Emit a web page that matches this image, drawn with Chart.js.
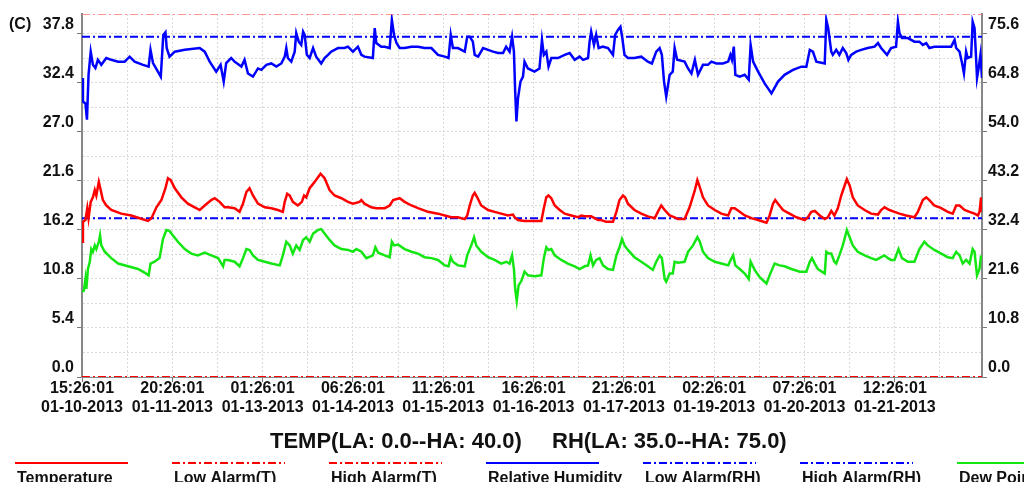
<!DOCTYPE html>
<html>
<head>
<meta charset="utf-8">
<script src="https://cdn.jsdelivr.net/npm/chart.js@4.4.0/dist/chart.umd.min.js"></script>
<style>
  html, body { margin: 0; padding: 0; background: #fff; }
  #wrap { position: relative; width: 1024px; height: 482px; }
</style>
</head>
<body>
<div id="wrap"><canvas id="grafica"></canvas></div>
<script>
// hours since 15:26:01 01-10-2013
var tempHours = [0,0.3,1.1,1.7,2.1,2.8,3.5,4.1,4.6,5.4,6.0,6.7,7.8,9.4,12.6,15.8,18.5,21.2,22.3,23.9,25.5,26.8,27.6,28.5,29.8,31.9,34.0,36.2,37.8,39.4,41.5,42.6,44.2,45.8,
  46.9,49.0,50.6,51.7,52.8,53.8,54.9,56.5,58.7,60.8,62.9,64.5,65.1,65.9,66.7,67.7,69.3,70.6,71.3,72.0,73.1,74.7,76.6,77.9,79.5,81.1,83.3,85.4,87.0,89.1,89.7,90.7,92.9,94.5,
  95.1,97.2,98.8,99.9,102.0,103.6,105.8,107.9,111.1,114.3,116.5,118.6,120.7,122.9,123.7,124.5,125.5,126.1,126.9,128.2,130.4,132.5,134.6,136.8,138.4,138.9,140.0,142.1,
  143.2,145.3,147.5,148.3,149.1,149.8,150.7,151.8,153.4,155.0,157.1,159.3,160.3,161.9,163.5,164.6,165.7,166.7,168.3,170.5,171.6,172.6,173.7,174.4,175.3,177.4,179.6,181.7,183.9,184.9,186.0,187.1,188.7,190.3,
  191.4,193.5,195.1,196.8,197.6,198.4,199.4,201.0,203.2,205.3,207.5,208.5,209.6,211.2,212.8,214.4,214.9,217.1,219.8,220.8,221.9,222.6,223.5,225.1,227.2,229.4,232.1,233.1,234.2,235.3,236.9,238.5,
  239.5,240.6,241.6,242.7,243.8,244.9,245.6,246.5,247.5,249.1,251.3,253.4,255.6,256.6,257.7,259.3,260.9,262.5,264.6,267.3,268.4,270.0,271.1,272.1,273.7,275.9,278.0,279.6,280.7,281.8,283.4,285.0,286.6,287.7,288.2,288.7,289.0];
var tempValues = [14.9,17.1,17.3,18.6,17.5,19.3,19.8,20.6,20.0,21.5,20.6,19.5,18.9,18.4,18.0,17.8,17.5,17.2,17.5,18.7,19.5,20.8,21.9,21.7,20.8,19.8,19.1,18.7,18.4,18.9,19.5,19.7,19.3,18.7,
  18.7,18.6,18.2,19.1,20.4,20.8,20.0,19.1,18.7,18.6,18.4,18.2,19.3,20.2,20.0,19.3,18.9,19.3,20.0,19.8,20.8,21.5,22.4,21.9,20.6,20.0,19.7,19.3,19.1,19.3,19.5,19.1,18.7,18.6,
  18.6,18.6,18.9,19.5,19.7,19.3,18.9,18.6,18.2,18.0,17.8,17.6,17.6,17.4,17.8,18.9,20.0,20.3,19.8,18.9,18.4,18.2,18.0,17.8,17.9,17.6,17.3,17.2,
  17.2,17.2,17.2,18.6,19.8,20.0,19.7,18.9,18.4,18.0,17.8,17.6,17.8,17.7,17.7,17.5,17.3,17.3,17.1,17.1,18.2,19.5,20.0,19.8,19.1,18.4,18.0,17.7,17.5,18.2,18.9,18.4,17.8,17.6,
  17.4,17.4,18.7,20.6,21.7,20.9,19.8,18.9,18.4,18.0,17.8,18.6,18.6,18.2,17.8,17.6,17.5,17.3,17.0,17.8,19.1,19.5,19.1,18.4,18.0,17.6,17.3,17.6,18.2,18.3,17.8,17.4,
  17.6,18.3,17.8,18.6,20.0,21.1,21.8,21.1,19.8,18.9,18.4,18.0,17.9,18.4,18.7,18.4,18.2,18.0,17.8,17.6,18.2,19.5,19.8,19.5,18.9,18.6,18.2,18.0,18.9,18.9,18.4,18.2,18.0,17.8,18.2,19.8,18.2];

var rhHours = [0,0.3,1.1,1.6,2.1,2.8,3.5,4.3,5.1,6.2,7.8,9.4,11.6,13.7,15.3,16.9,19.6,21.4,22.0,22.8,25.3,26.1,26.8,27.2,28.1,29.8,33.0,37.8,39.4,41.0,43.1,44.5,45.5,46.3,47.9,
  49.0,51.2,52.2,53.3,54.9,56.5,57.6,59.2,60.8,62.4,64.0,65.1,65.6,66.1,67.2,68.3,68.8,69.6,70.4,71.0,71.5,72.2,73.1,74.2,75.2,76.8,77.9,79.0,80.0,82.2,84.3,85.4,87.0,88.6,89.7,90.7,93.4,94.0,94.5,96.1,
  97.2,98.8,99.5,100.2,101.0,102.0,103.6,105.8,107.9,110.0,112.2,114.3,116.5,117.7,118.4,119.1,120.7,122.9,123.7,124.5,125.5,126.1,127.2,128.8,130.4,132.0,133.6,135.2,136.2,137.3,138.1,138.7,139.1,139.5,140.0,140.8,141.6,142.1,
  143.2,145.3,146.9,147.7,148.3,149.1,149.8,150.7,152.8,155.0,156.6,158.2,159.8,160.9,162.5,163.0,163.5,164.4,165.1,165.9,167.3,168.9,170.5,171.2,172.1,172.9,173.5,174.2,175.3,177.4,179.6,181.7,183.0,184.4,185.5,186.2,186.9,187.6,188.7,189.7,190.3,191.1,
  193.5,194.6,195.7,196.8,197.8,199.4,201.0,202.1,203.7,205.8,207.5,208.2,208.7,209.3,209.8,211.2,212.8,214.1,214.7,215.5,217.1,219.2,221.4,223.5,225.6,228.3,231.0,232.6,233.7,234.7,235.8,238.5,239.0,239.6,240.1,
  240.6,241.1,242.2,243.2,244.3,245.4,246.1,247.0,248.6,250.2,252.3,254.5,255.6,256.6,258.5,259.8,261.4,262.0,262.5,263.3,265.2,267.3,268.9,270.0,271.1,272.1,273.7,275.9,279.1,280.2,280.7,281.8,282.5,283.2,283.9,284.4,285.5,286.0,286.6,287.1,287.4,287.9,288.5,289.0];
var rhValues = [65.9,60.7,60.3,56.7,66.6,71.7,68.8,68.1,69.9,68.8,70.3,69.9,69.5,69.5,70.6,69.5,68.8,68.4,72.1,69.2,66.2,75.4,76.0,72.5,70.6,71.7,72.1,72.5,71.7,69.5,67.3,68.8,65.1,69.2,70.3,
  69.5,68.4,69.9,66.9,66.2,68.0,67.7,68.8,69.1,68.4,69.1,70.6,72.5,70.3,69.5,71.7,75.8,73.9,73.2,76.1,75.4,71.0,70.3,72.5,70.6,69.1,70.3,71.0,71.7,72.5,72.5,72.8,71.7,72.8,71.0,70.6,70.3,76.9,73.6,72.8,
  72.8,72.5,78.7,75.4,73.6,72.5,72.5,72.8,72.8,72.5,72.5,71.0,70.6,70.3,75.4,72.5,72.5,71.7,75.0,75.0,73.9,71.0,70.6,72.5,72.1,71.7,71.4,71.4,72.8,71.7,75.0,71.7,62.9,56.3,61.4,65.1,66.2,69.5,
  68.0,67.3,68.0,74.3,71.0,71.7,68.4,70.3,70.3,71.0,71.4,69.9,70.6,69.9,70.3,73.9,76.1,73.2,75.4,72.5,72.8,72.5,71.0,75.4,76.5,77.2,74.7,71.0,70.3,70.3,70.6,69.5,69.1,71.7,72.5,71.0,65.1,61.8,66.6,67.3,72.5,69.9,
  69.5,68.0,66.9,69.9,66.6,68.8,68.8,69.5,69.1,69.1,69.5,71.0,69.9,72.8,66.6,66.2,66.6,65.5,73.2,69.5,67.3,64.7,62.5,65.1,66.6,67.7,68.4,68.4,72.1,71.7,69.5,69.1,78.7,76.9,74.3,
  71.7,71.0,72.1,71.0,72.5,71.4,69.9,71.0,71.7,72.1,72.5,72.8,73.6,72.5,71.0,72.5,72.8,78.3,75.8,74.7,74.7,73.9,73.9,73.2,73.6,72.5,72.8,72.8,72.8,74.3,72.5,71.7,69.5,66.9,71.7,70.3,70.6,78.3,76.9,70.3,65.9,68.0,71.0,65.9];

var dewHours = [0,0.6,1.1,1.4,1.9,2.5,3.0,3.5,4.1,4.6,5.4,5.8,6.2,7.3,9.4,11.6,14.8,18.0,20.1,21.4,22.0,23.3,24.9,26.0,27.1,28.1,29.2,30.8,33.0,35.1,37.2,39.4,41.5,43.7,45.3,45.8,
  46.9,49.0,50.6,51.7,52.8,53.8,54.9,56.5,58.7,60.8,63.5,64.5,65.6,66.7,67.7,68.8,69.9,71.0,72.0,73.1,74.2,75.8,76.8,77.9,79.5,81.1,83.3,85.4,87.0,88.1,89.7,91.3,93.4,94.2,
  95.1,97.2,98.8,99.5,100.2,101.5,103.6,105.8,107.9,110.0,112.2,114.3,116.5,117.7,118.4,119.1,120.7,122.9,123.7,125.0,125.9,126.6,128.2,130.4,132.5,134.6,136.2,137.3,138.1,138.7,139.1,139.6,140.2,141.1,142.1,
  143.2,145.3,147.5,148.3,149.1,149.8,150.7,151.8,153.9,156.0,158.2,159.8,161.4,162.5,163.3,164.1,165.1,166.2,167.3,168.9,170.5,171.6,172.6,173.4,174.2,175.3,177.4,179.6,181.7,183.3,184.4,185.5,186.2,187.1,187.6,188.7,189.7,190.3,
  191.4,193.5,194.6,196.2,197.6,198.4,199.4,201.0,203.2,205.3,207.5,208.3,209.1,209.8,211.2,212.8,214.1,214.7,216.0,217.6,219.8,220.8,222.4,224.0,225.6,227.8,230.5,232.6,233.7,234.4,235.3,236.3,238.5,239.0,239.8,
  240.6,241.6,242.2,243.2,244.3,245.6,246.5,247.5,249.1,251.3,253.4,255.0,256.6,257.7,258.8,259.8,260.9,262.2,263.3,265.2,267.3,268.9,270.5,271.6,273.7,275.9,278.0,279.6,280.7,281.8,282.8,283.9,285.0,286.0,286.6,287.4,288.2,288.7];
var dewValues = [9.4,9.5,10.8,9.7,11.9,12.7,14.1,13.8,14.5,14.1,14.9,15.6,14.5,13.8,13.1,12.5,12.2,11.9,11.5,11.2,12.5,12.7,13.1,15.2,16.2,16.1,15.6,14.9,14.1,13.6,13.4,13.7,13.4,13.1,12.2,12.9,
  12.9,12.7,12.2,13.1,14.1,14.0,13.4,12.9,12.7,12.5,12.3,13.4,14.9,14.5,13.6,14.5,14.0,15.1,15.4,14.9,15.8,16.2,16.3,15.8,15.1,14.5,14.1,14.0,13.8,14.1,13.8,13.1,13.4,14.3,
  13.7,13.4,13.2,14.9,14.5,14.6,14.1,13.8,13.6,13.2,13.1,12.9,12.3,12.2,13.2,12.7,12.3,12.2,13.4,14.5,15.4,14.5,13.8,13.2,12.9,12.5,12.7,12.5,13.4,11.9,9.7,8.4,10.1,10.6,11.6,
  11.2,11.1,11.2,13.1,14.3,14.0,14.1,13.4,12.9,12.5,12.2,11.9,12.2,12.3,13.4,12.3,12.9,13.1,12.3,11.9,11.8,13.4,14.3,15.2,14.5,14.0,13.2,12.7,12.2,11.8,12.7,13.4,13.1,10.8,10.5,11.4,11.4,12.7,
  12.6,12.7,13.8,14.5,15.4,14.9,13.8,13.1,12.7,12.5,12.3,12.9,13.4,12.3,11.9,11.4,10.8,12.7,11.8,11.0,10.3,11.2,12.5,12.3,12.2,11.9,11.6,11.6,12.7,13.1,12.5,11.9,11.4,13.8,13.6,
  13.6,12.7,12.5,13.4,14.5,16.2,15.4,14.5,13.8,13.4,13.1,12.9,13.2,13.4,13.1,12.9,12.9,14.1,13.1,12.7,12.7,14.1,14.9,14.5,14.0,13.6,13.2,13.1,13.8,13.4,12.5,12.9,12.5,14.1,13.8,11.2,11.9,13.4];

var tempAlarms = [0.0, 40.0];   // low, high (C)
var rhAlarms = [35.0, 75.0];    // low, high (%RH)

var tempTickLabels = ["0.0","5.4","10.8","16.2","21.6","27.0","32.4","37.8"];
var rhTickLabels = ["0.0","10.8","21.6","32.4","43.2","54.0","64.8","75.6"];
var timeTickLabels = [
  ["15:26:01","01-10-2013"], ["20:26:01","01-11-2013"], ["01:26:01","01-13-2013"],
  ["06:26:01","01-14-2013"], ["11:26:01","01-15-2013"], ["16:26:01","01-16-2013"],
  ["21:26:01","01-17-2013"], ["02:26:01","01-19-2013"], ["07:26:01","01-20-2013"],
  ["12:26:01","01-21-2013"]
];
var legendNames = ["Temperature","Low Alarm(T)","High Alarm(T)","Relative Humidity","Low Alarm(RH)","High Alarm(RH)","Dew Point"];
var titleParts = ["TEMP(LA: 0.0--HA: 40.0)", "RH(LA: 35.0--HA: 75.0)"];
var unitLabel = "(C)";

var RED = "#ff0000", BLUE = "#0000ff", GREEN = "#14e614";
var DASHDOT = [8, 3, 2, 3];
var FONT = '"Liberation Sans", Arial, sans-serif';

function puntos(hours, values) {
    return hours.map(function (h, i) { return {x: h, y: values[i]}; });
}
function linea(value) {
    return [{x: 0, y: value}, {x: 289, y: value}];
}

var legendStyles = [
    {color: RED, dash: []}, {color: RED, dash: DASHDOT}, {color: RED, dash: DASHDOT},
    {color: BLUE, dash: []}, {color: BLUE, dash: DASHDOT}, {color: BLUE, dash: DASHDOT},
    {color: GREEN, dash: []}
];

var decor = {
    id: "decor",
    afterDraw: function (chart) {
        var ctx = chart.ctx;
        ctx.save();
        ctx.fillStyle = "#111";
        ctx.textBaseline = "middle";
        ctx.textAlign = "left";
        ctx.font = "bold 16px " + FONT;
        ctx.fillText(unitLabel, 9, 25);

        ctx.font = "bold 22px " + FONT;
        ctx.fillText(titleParts[0], 270, 442);
        ctx.fillText(titleParts[1], 552, 442);

        // legend row, text cut by the bottom edge
        ctx.font = "bold 16px " + FONT;
        ctx.textBaseline = "top";
        for (var i = 0; i < legendNames.length; i++) {
            var x = 15 + i * 157;
            ctx.beginPath();
            ctx.strokeStyle = legendStyles[i].color;
            ctx.lineWidth = 2;
            ctx.setLineDash(legendStyles[i].dash);
            ctx.moveTo(x, 463);
            ctx.lineTo(x + 113, 463);
            ctx.stroke();
            ctx.fillText(legendNames[i], x + 2, 471);
        }
        ctx.restore();
    }
};

function tickColor(c) {
    return c.index % 2 === 0 ? "#777" : "rgba(0,0,0,0)";
}

Chart.defaults.font.family = FONT;
Chart.defaults.color = "#111";

var miCanvas = document.getElementById("grafica").getContext("2d");
var chart = new Chart(miCanvas, {
    type: "line",
    data: {
        datasets: [
            {label: legendNames[0], data: puntos(tempHours, tempValues), borderColor: RED, borderWidth: 2.5, yAxisID: "y"},
            {label: legendNames[1], data: linea(tempAlarms[0]), borderColor: RED, borderWidth: 2, borderDash: DASHDOT, yAxisID: "y"},
            {label: legendNames[2], data: linea(tempAlarms[1]), borderColor: "#ff7070", borderWidth: 1.5, borderDash: DASHDOT, yAxisID: "y"},
            {label: legendNames[3], data: puntos(rhHours, rhValues), borderColor: BLUE, borderWidth: 2.5, yAxisID: "y1"},
            {label: legendNames[4], data: linea(rhAlarms[0]), borderColor: BLUE, borderWidth: 2, borderDash: DASHDOT, yAxisID: "y1"},
            {label: legendNames[5], data: linea(rhAlarms[1]), borderColor: BLUE, borderWidth: 2, borderDash: DASHDOT, yAxisID: "y1"},
            {label: legendNames[6], data: puntos(dewHours, dewValues), borderColor: GREEN, borderWidth: 2.5, yAxisID: "y"}
        ]
    },
    options: {
        responsive: true,
        maintainAspectRatio: false,
        animation: false,
        events: [],
        layout: {padding: {top: 14, left: 0, right: 0, bottom: 0}},
        elements: {point: {radius: 0}, line: {tension: 0, fill: false}},
        plugins: {legend: {display: false}, tooltip: {enabled: false}},
        scales: {
            x: {
                type: "linear",
                min: 0,
                max: 289,
                afterFit: function (s) { s.height = 105; },
                grid: {color: "#d9d9d9", tickColor: tickColor, tickLength: 5},
                border: {color: "#888", width: 1, dash: [2, 2]},
                ticks: {
                    stepSize: 14.5,
                    includeBounds: false,
                    autoSkip: false,
                    maxRotation: 0,
                    minRotation: 0,
                    padding: -3,
                    font: {size: 16, weight: "bold"},
                    callback: function (v, i) { return i % 2 === 0 ? timeTickLabels[i / 2] : ""; }
                }
            },
            y: {
                position: "left",
                min: 0,
                max: 40,
                afterFit: function (s) { s.width = 82; },
                grid: {color: "#d9d9d9", tickColor: tickColor, tickLength: 5},
                border: {color: "#888", width: 2, dash: [2, 2]},
                ticks: {
                    stepSize: 2.7,
                    includeBounds: false,
                    padding: 3,
                    labelOffset: -9,
                    font: {size: 16, weight: "bold"},
                    callback: function (v, i) { return i % 2 === 0 ? tempTickLabels[i / 2] : ""; }
                }
            },
            y1: {
                position: "right",
                min: 0,
                max: 80,
                afterFit: function (s) { s.width = 42; },
                grid: {drawOnChartArea: false, tickColor: tickColor, tickLength: 5},
                border: {color: "#888", width: 2},
                ticks: {
                    stepSize: 5.4,
                    includeBounds: false,
                    padding: 1,
                    labelOffset: -9,
                    font: {size: 16, weight: "bold"},
                    callback: function (v, i) { return i % 2 === 0 ? rhTickLabels[i / 2] : ""; }
                }
            }
        }
    },
    plugins: [decor]
});
</script>
</body>
</html>
